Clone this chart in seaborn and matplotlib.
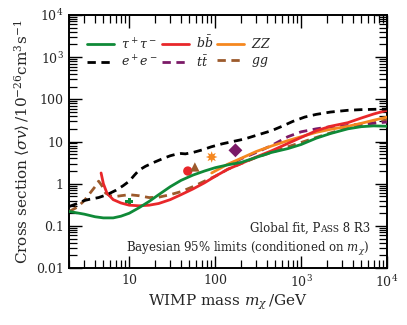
import numpy as np
import pandas as pd
import matplotlib
matplotlib.use("Agg")
import matplotlib.pyplot as plt
import matplotlib.ticker as mticker
import seaborn as sns

# ---------------- data ----------------
tau_m = [2, 3, 4, 5, 6.5, 8, 10, 13, 17, 22, 30, 40, 55, 75, 100, 140, 200, 300, 450,
         700, 1000, 1500, 2200, 3500, 5000, 7000, 10000]
tau_v = [0.22, 0.19, 0.165, 0.155, 0.155, 0.17, 0.2, 0.27, 0.38, 0.55, 0.85, 1.2, 1.6,
         2.0, 2.4, 2.8, 3.2, 4.2, 5.5, 6.8, 8.5, 12, 15.5, 20, 22.5, 23.5, 23]

bb_m = [4.7, 5.0, 5.5, 6.5, 8, 10, 13, 17, 22, 30, 40, 55, 75, 100, 140, 200, 300, 450,
        700, 1000, 1500, 2200, 3500, 5000, 7000, 10000]
bb_v = [1.8, 1.0, 0.6, 0.42, 0.35, 0.31, 0.30, 0.31, 0.34, 0.42, 0.55, 0.75, 1.05, 1.5,
        2.2, 3.0, 4.3, 6.0, 9.0, 12.5, 18, 23, 28, 36, 45, 55]

zz_m = [91, 100, 140, 200, 300, 450, 700, 1000, 1500, 2200, 3500, 5000, 7000, 10000]
zz_v = [1.8, 2.0, 2.9, 4.0, 5.8, 7.8, 10.5, 13, 16.5, 19.5, 23, 27, 32, 38]

tt_m = [175, 200, 300, 450, 700, 1000, 1500, 2200, 3500, 5000, 7000, 10000]
tt_v = [3.4, 3.9, 5.5, 8.0, 13, 17, 20, 22.5, 24, 26, 27, 29]

gg_m = [2, 2.5, 3, 3.5, 4.0, 4.4, 4.8, 5.3, 6, 7, 8, 10, 13, 17, 22, 30, 40, 55, 75, 100,
        140, 200, 300, 450, 700, 1000, 1500, 2200, 3500, 5000, 7000, 10000]
gg_v = [0.22, 0.28, 0.4, 0.6, 0.85, 1.15, 0.9, 0.6, 0.52, 0.5, 0.52, 0.55, 0.52, 0.47,
        0.48, 0.55, 0.65, 0.85, 1.15, 1.5, 2.2, 3.0, 4.2, 5.5, 7.5, 9.5, 12.5, 16, 21,
        24.5, 28, 33]

ee_m = [2, 2.5, 3, 3.5, 4.4, 5.5, 7, 8.5, 10, 11.5, 13, 15.5, 20, 25, 30, 35, 40, 45, 55,
        70, 90, 120, 160, 220, 300, 450, 600, 800, 1100, 1500, 2200, 3500, 5000, 7000,
        10000]
ee_v = [0.29, 0.34, 0.40, 0.43, 0.47, 0.55, 0.7, 0.9, 1.15, 1.6, 2.1, 2.6, 3.3, 4.0, 4.6,
        5.0, 5.2, 5.1, 5.5, 6.3, 7.5, 8.8, 10, 11.5, 14, 18, 23, 30, 38, 44, 50, 55, 57,
        58, 59]

# best-fit points
best_channel = ["tau", "bb", "gg", "ZZ", "tt"]
best_m = [10, 48, 58, 91, 172]
best_v = [0.38, 2.0, 2.5, 4.3, 6.2]

labels = {"tau": r"$\tau^+\tau^-$", "bb": r"$b\bar{b}$", "ZZ": r"$ZZ$",
          "ee": r"$e^+e^-$", "tt": r"$t\bar{t}$", "gg": r"$gg$"}
colors = {"tau": "#0f8a38", "bb": "#e8272a", "ZZ": "#f5871f", "ee": "#000000",
          "tt": "#7b1a67", "gg": "#9c5a2c"}
dashed = {"tau": False, "bb": False, "ZZ": False, "ee": True, "tt": True, "gg": True}
markers = {"tau": "P", "bb": "o", "gg": "^", "ZZ": (8, 1, 0), "tt": "D"}
msize = {"tau": 30, "bb": 45, "gg": 45, "ZZ": 70, "tt": 50}

series = {"tau": (tau_m, tau_v), "bb": (bb_m, bb_v), "ZZ": (zz_m, zz_v),
          "ee": (ee_m, ee_v), "tt": (tt_m, tt_v), "gg": (gg_m, gg_v)}

frames = []
for ch, (m, v) in series.items():
    frames.append(pd.DataFrame({"mass": m, "sv": v, "channel": ch}))
df = pd.concat(frames, ignore_index=True)
best = pd.DataFrame({"mass": best_m, "sv": best_v, "channel": best_channel})

# ---------------- style ----------------
sns.set_style("ticks")
plt.rcParams["font.family"] = ["DejaVu Serif"]
plt.rcParams["mathtext.fontset"] = "dejavuserif"

fig = plt.figure(figsize=(4.07, 3.25), dpi=100)
ax = fig.add_axes([0.170, 0.175, 0.781, 0.779])

for ch in best_channel:
    sub = best[best.channel == ch]
    sns.scatterplot(data=sub, x="mass", y="sv", ax=ax, color=colors[ch],
                    marker=markers[ch], s=msize[ch], edgecolor="none", zorder=2,
                    legend=False)

handles = {}
for ch in ["gg", "tt", "ZZ", "bb", "tau", "ee"]:
    sub = df[df.channel == ch]
    sns.lineplot(data=sub, x="mass", y="sv", ax=ax, color=colors[ch],
                 estimator=None, sort=False, lw=2.0, zorder=3, legend=False)
    ln = ax.lines[-1]
    if dashed[ch]:
        ln.set_dashes([3.0, 2.0])
    handles[ch] = ln

ax.set_xscale("log")
ax.set_yscale("log")
ax.set_xlim(2, 1e4)
ax.set_ylim(0.01, 1e4)


def fmt(v, pos):
    n = int(round(np.log10(v)))
    if -2 <= n <= 2:
        return {-2: "0.01", -1: "0.1", 0: "1", 1: "10", 2: "100"}[n]
    return r"$10^{%d}$" % n


ax.xaxis.set_major_locator(mticker.LogLocator(base=10, numticks=20))
ax.xaxis.set_minor_locator(mticker.LogLocator(base=10, subs=np.arange(2, 10), numticks=100))
ax.yaxis.set_major_locator(mticker.LogLocator(base=10, numticks=20))
ax.yaxis.set_minor_locator(mticker.LogLocator(base=10, subs=np.arange(2, 10), numticks=100))
ax.xaxis.set_major_formatter(mticker.FuncFormatter(fmt))
ax.yaxis.set_major_formatter(mticker.FuncFormatter(fmt))
ax.xaxis.set_minor_formatter(mticker.NullFormatter())
ax.yaxis.set_minor_formatter(mticker.NullFormatter())

ax.tick_params(which="both", direction="in", top=True, right=True, color="black",
               labelsize=9, pad=4)
ax.tick_params(which="major", length=9, width=1.0)
ax.tick_params(which="minor", length=5.5, width=0.9)
for s in ax.spines.values():
    s.set_linewidth(1.4)
    s.set_color("black")

ax.set_xlabel(r"WIMP mass $m_\chi\,/\mathrm{GeV}$", fontsize=11, labelpad=2)
ax.set_ylabel(r"Cross section $\langle\sigma v\rangle\,/10^{-26}\mathrm{cm}^3\mathrm{s}^{-1}$",
              fontsize=11, labelpad=3)

order = ["tau", "ee", "bb", "tt", "ZZ", "gg"]
ax.legend([handles[c] for c in order], [labels[c] for c in order], ncol=3,
          loc="upper left", bbox_to_anchor=(0.02, 0.965), frameon=False, fontsize=9,
          handlelength=2.15, handletextpad=0.55, columnspacing=0.35, labelspacing=0.25,
          borderpad=0.4)

# text with small-caps "PASS"
fs = 8.5
fig.canvas.draw()
r = fig.canvas.get_renderer()
axw = ax.bbox.width
xr, yb = 0.947, 0.142
t3 = ax.text(xr, yb, " 8 R3", transform=ax.transAxes, ha="right", va="baseline", fontsize=fs)
w3 = t3.get_window_extent(r).width / axw
t2 = ax.text(xr - w3, yb, "ASS", transform=ax.transAxes, ha="right", va="baseline",
             fontsize=fs * 0.78)
w2 = t2.get_window_extent(r).width / axw
ax.text(xr - w3 - w2, yb, "Global fit, P", transform=ax.transAxes, ha="right",
        va="baseline", fontsize=fs)
ax.text(0.942, 0.063, r"Bayesian 95% limits (conditioned on $m_\chi$)", transform=ax.transAxes,
        ha="right", va="baseline", fontsize=fs)

fig.savefig("out.png", dpi=100)
